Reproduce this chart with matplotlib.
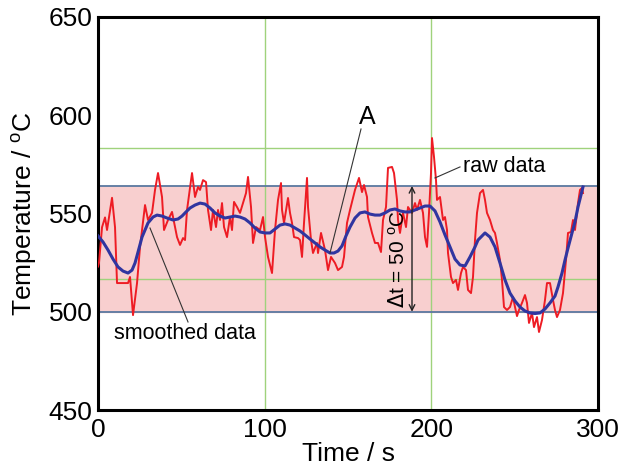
import numpy as np
import matplotlib.pyplot as plt

plt.rcParams['font.family'] = ['Liberation Sans', 'DejaVu Sans']

# raw thermocouple trace (time in s, temperature in degC)
raw_time = [0, 0.6, 2.4, 4.2, 5.4, 8.4, 10.2, 11.4, 18.0, 19.2, 21.0, 23.4, 25.2, 28.2, 30.0,
            32.4, 34.2, 36.0, 38.4, 39.6, 42.0, 44.4, 47.4, 49.2, 51.0, 52.2, 53.4, 56.4, 58.2,
            60.0, 61.2, 63.0, 64.8, 66.0, 67.8, 69.0, 70.8, 72.0, 73.2, 74.4, 75.6, 77.4, 79.2,
            80.4, 81.6, 83.4, 85.2, 87.0, 88.8, 90.0, 91.8, 93.0, 94.8, 97.2, 99.0, 100.2, 102.0,
            104.4, 106.2, 108.0, 109.8, 110.4, 111.6, 114.0, 115.2, 116.4, 117.6, 120.0, 121.2,
            122.4, 123.6, 125.4, 126.0, 127.8, 129.0, 131.4, 132.0, 133.8, 136.2, 138.0, 139.8,
            142.2, 144.0, 146.4, 147.6, 149.4, 151.2, 154.2, 156.6, 158.4, 159.6, 161.4, 162.0,
            164.4, 166.2, 168.0, 169.8, 171.0, 172.8, 174.0, 176.4, 177.6, 179.4, 180.0, 181.2,
            183.0, 184.8, 186.0, 188.4, 190.2, 191.4, 193.2, 195.0, 196.2, 197.4, 198.6, 199.8,
            200.4, 201.6, 202.8, 203.4, 205.2, 207.0, 208.2, 209.4, 210.0, 211.8, 213.0, 214.8,
            216.0, 217.8, 219.0, 220.8, 222.0, 223.8, 225.0, 226.2, 227.4, 229.2, 231.0, 232.2,
            233.4, 235.2, 237.0, 238.2, 239.4, 241.2, 242.4, 243.6, 245.4, 247.2, 249.0, 250.2,
            251.4, 252.6, 254.4, 256.2, 257.4, 258.6, 260.4, 261.6, 263.4, 264.6, 266.4, 268.2,
            269.4, 271.2, 273.0, 274.2, 275.4, 277.2, 279.0, 280.8, 282.0, 283.8, 285.0, 286.2,
            287.4, 288.0, 289.2, 290.4, 291.0]
raw_temp = [523, 525, 543, 548, 541.6, 558, 543, 514.6, 514.6, 517.7, 498.3, 514.6, 533, 554.3, 546.7,
            550.3, 562, 570.6, 558.4, 541.6, 546.7, 550.8, 538, 534, 537.5, 536.5, 551.8, 570.6, 558.4,
            563.5, 562, 567, 566, 551.8, 541.6, 551.8, 543.1, 551.8, 546.7, 555.3, 543.1, 538, 548.2,
            541.6, 555.9, 553.3, 550.3, 555.3, 560.4, 568.6, 553.3, 535, 543.1, 541.6, 548.2, 538, 527.9,
            519.7, 541.6, 556.9, 565.5, 551.8, 545.2, 557.9, 550.3, 545.2, 538, 537.5, 536.5,
            527.9, 545.2, 568.1, 553.3, 536.5, 529.9, 535, 529.9, 540.1, 531.4, 521.2, 527.9,
            524.8, 521.2, 522.8, 527.9, 545.2, 551.8, 562, 568.1, 560.9, 564.5, 558.4, 548.2,
            540.1, 535, 535, 530.4, 546.7, 553.3, 573.2, 573.7, 570.6, 556.9, 546.7, 540.1,
            550.3, 543.1, 553.3, 550.3, 555.3, 551.8, 556.9, 550.3, 538, 533, 550.3, 570.6,
            588.4, 578.8, 567, 556.9, 558.4, 546.7, 548.2, 541.6, 529.9, 517.7, 514.6, 516.2,
            511.1, 519.7, 522.8, 521.2, 511.1, 509.5, 517.7, 536.5, 550.3, 560.4, 562, 556.9,
            550.3, 546.7, 541.6, 540.1, 535, 526.3, 516.2, 502.4, 500.9, 502.4, 507.5, 502.4,
            497.8, 500.9, 504.5, 508.5, 504.5, 494.3, 499.4, 492.2, 497.3, 489.7, 495.8, 506,
            514.6, 514.6, 506, 500.9, 497.3, 500.9, 509.5, 526.3, 540.1, 540.6, 546.7, 541.6,
            550.3, 555.3, 562, 563, 560.4]

# smoothed curve
smooth_time = [0, 3.0, 6.0, 9.0, 12.0, 15.0, 18.0, 20.4, 22.2, 24.0, 26.4, 30.0, 33.0, 35.4, 38.4,
               41.4, 45.0, 48.0, 50.4, 52.8, 55.2, 58.2, 61.2, 64.2, 67.2, 70.2, 73.2, 76.2, 79.2,
               82.2, 85.2, 88.2, 91.2, 94.2, 97.2, 100.2, 103.2, 106.2, 109.2, 112.2, 115.2, 118.2,
               121.2, 124.2, 127.2, 130.2, 133.2, 136.2, 139.2, 141.6, 144.0, 146.4, 148.8, 151.2,
               154.2, 157.2, 160.2, 163.2, 166.2, 169.2, 172.2, 175.2, 178.2, 181.2, 184.2, 187.2,
               190.2, 193.2, 196.2, 199.2, 202.2, 205.2, 208.2, 211.2, 214.2, 217.2, 220.2, 223.2,
               226.2, 228.0, 232.2, 235.2, 238.2, 241.2, 244.2, 247.2, 250.2, 253.2, 256.2, 259.2,
               262.2, 265.2, 268.2, 271.2, 274.2, 276.0, 278.4, 280.2, 282.0, 284.4, 286.2, 288.0,
               291.0]
smooth_temp = [538.6, 535.5, 531.4, 526.8, 522.8, 520.7, 519.7, 521.2, 524.8, 530.4, 538.0, 545.2,
               548.2, 549.2, 548.7, 547.7, 546.7, 547.2, 548.7, 550.8, 552.8, 554.3, 555.3, 554.8,
               552.8, 550.3, 548.7, 547.7, 548.2, 548.7, 548.2, 547.2, 545.2, 542.6, 540.6, 540.1,
               540.1, 542.1, 544.1, 544.7, 544.1, 542.6, 541.1, 539.1, 537.0, 535.0, 533.0, 531.4,
               529.9, 529.9, 530.9, 533.5, 538.6, 543.1, 547.7, 550.3, 550.8, 549.7, 549.2, 549.2,
               550.3, 551.8, 552.3, 551.3, 550.8, 550.8, 551.8, 552.8, 553.8, 553.8, 551.3, 545.7,
               539.1, 533.0, 526.8, 523.8, 523.3, 527.9, 533.0, 536.5, 540.1, 538.0, 533.0, 524.8,
               516.2, 509.5, 505.5, 502.4, 500.4, 499.4, 499.1, 499.4, 501.4, 504.5, 508.0, 512.6,
               519.7, 526.3, 532.4, 540.1, 545.7, 553.3, 563.5]

band_low, band_high = 500, 564
grid_y = [516.7, 583.3]
grid_x = [100, 200]

fig = plt.figure(figsize=(6.22, 4.68), dpi=100)
ax = fig.add_axes([0.1576, 0.1239, 0.8038, 0.8398])

ax.axhspan(band_low, band_high, color='#f8cfcf', zorder=0)
for g in grid_y:
    ax.axhline(g, color='#9fd27c', lw=1, zorder=1)
for g in grid_x:
    ax.axvline(g, color='#9fd27c', lw=1, zorder=1)
ax.axhline(band_low, color='#5a78a0', lw=1.3, zorder=2)
ax.axhline(band_high, color='#5a78a0', lw=1.3, zorder=2)

ax.plot(raw_time, raw_temp, color='#ee1c24', lw=1.4, zorder=3)
ax.plot(smooth_time, smooth_temp, color='#3035a0', lw=2.2, zorder=4)

# annotations
ax.annotate('', xy=(188.4, band_low), xytext=(188.4, band_high),
            arrowprops=dict(arrowstyle='<->', color='#222222', lw=1, shrinkA=0, shrinkB=0), zorder=5)
ax.text(180.5, 527, r'$\Delta$t = 50 $^{\mathregular{o}}$C', rotation=90, ha='center', va='center',
        fontsize=15)
ax.text(161.4, 599, 'A', ha='center', va='center', fontsize=18)
ax.plot([157.8, 139.2], [593, 529.9], color='#333333', lw=0.8, zorder=5)
ax.text(219, 573.7, 'raw data', ha='left', va='center', fontsize=15.5)
ax.plot([217.2, 202.2], [573.7, 568.1], color='#333333', lw=0.8, zorder=5)
ax.text(52, 489, 'smoothed data', ha='center', va='center', fontsize=15.5)
ax.plot([31.2, 54], [542.6, 494.8], color='#333333', lw=0.8, zorder=5)

ax.set_xlim(0, 300)
ax.set_ylim(450, 650)
ax.set_xticks([0, 100, 200, 300])
ax.set_yticks([450, 500, 550, 600, 650])
ax.tick_params(axis='x', length=0, labelsize=19, pad=6)
ax.tick_params(axis='y', length=0, labelsize=19, pad=4)
for s in ax.spines.values():
    s.set_linewidth(2.2)
ax.set_xlabel('Time / s', fontsize=19, labelpad=0)
ax.set_ylabel(r'Temperature / $^{\mathregular{o}}$C', fontsize=19, labelpad=7)

fig.savefig('out.png', dpi=100)
